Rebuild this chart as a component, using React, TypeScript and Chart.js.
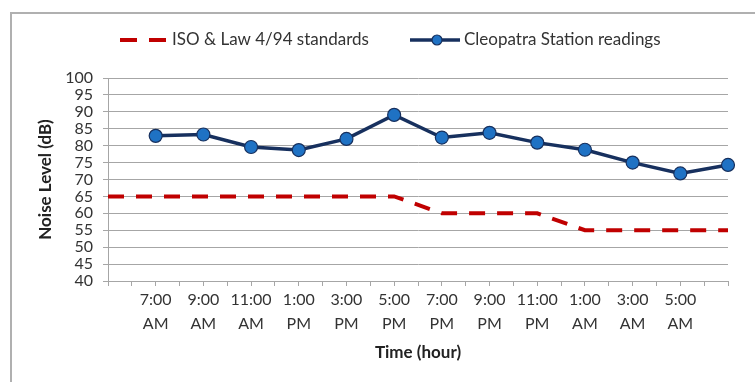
import React, { useEffect, useRef } from "react";
import { Chart, registerables } from "chart.js";

Chart.register(...registerables);

// Two-hourly tick labels shown on the x axis (first reading at 7:00 AM)
const timeLabels = [
  "7:00 AM", "9:00 AM", "11:00 AM", "1:00 PM", "3:00 PM", "5:00 PM",
  "7:00 PM", "9:00 PM", "11:00 PM", "1:00 AM", "3:00 AM", "5:00 AM",
];
// Cleopatra Station readings, every 2 hours from 7:00 AM (last one at 7:00 AM next day)
const cleopatraReadings = [82.9, 83.3, 79.6, 78.7, 82.0, 89.1, 82.4, 83.8, 80.9, 78.8, 75.0, 71.8, 74.3];
// ISO & Law 4/94 standards, every 2 hours from 5:00 AM
const isoStandards = [65, 65, 65, 65, 65, 65, 65, 60, 60, 60, 55, 55, 55, 55];
const yTicks = [40, 45, 50, 55, 60, 65, 70, 75, 80, 85, 90, 95, 100];

const HOURS = 27; // hourly categories from 5:00 AM to 7:00 AM next day

const categories: string[] = Array.from({ length: HOURS }, () => "");
timeLabels.forEach((l, i) => (categories[2 + 2 * i] = l));
const blueData: (number | null)[] = Array.from({ length: HOURS }, () => null);
cleopatraReadings.forEach((v, i) => (blueData[2 + 2 * i] = v));
const redData: (number | null)[] = Array.from({ length: HOURS }, () => null);
isoStandards.forEach((v, i) => (redData[2 * i] = v));

const FONT = "Lato, 'Open Sans', sans-serif";
const RED = "#C00000";
const NAVY = "#17305E";
const BLUE = "#1F72C4";
const GRID = "#A6A6A6";
const TEXT = "#333333";

const legendPlugin = {
  id: "customLegend",
  afterDraw(chart: any) {
    const ctx = chart.ctx;
    ctx.save();
    const y = 40;
    ctx.strokeStyle = RED;
    ctx.lineWidth = 4;
    ctx.beginPath();
    ctx.moveTo(120, y);
    ctx.lineTo(137, y);
    ctx.moveTo(149, y);
    ctx.lineTo(166, y);
    ctx.stroke();
    ctx.font = `17px ${FONT}`;
    ctx.fillStyle = TEXT;
    ctx.textBaseline = "middle";
    ctx.textAlign = "left";
    ctx.fillText("ISO & Law 4/94 standards", 172, y);

    ctx.strokeStyle = NAVY;
    ctx.lineWidth = 3.5;
    ctx.beginPath();
    ctx.moveTo(410, y);
    ctx.lineTo(460, y);
    ctx.stroke();
    ctx.beginPath();
    ctx.arc(437, y, 5, 0, Math.PI * 2);
    ctx.fillStyle = BLUE;
    ctx.fill();
    ctx.lineWidth = 1.2;
    ctx.stroke();
    ctx.fillStyle = TEXT;
    ctx.fillText("Cleopatra Station readings", 464, y);
    ctx.restore();
  },
};

export default function App() {
  const ref = useRef<HTMLCanvasElement | null>(null);
  useEffect(() => {
    if (!ref.current) return;
    const chart = new Chart(ref.current, {
      type: "line",
      data: {
        labels: categories,
        datasets: [
          {
            label: "ISO & Law 4/94 standards",
            data: redData,
            borderColor: RED,
            borderWidth: 4,
            borderDash: [16, 12],
            pointRadius: 0,
            spanGaps: true,
            tension: 0,
          },
          {
            label: "Cleopatra Station readings",
            data: blueData,
            borderColor: NAVY,
            borderWidth: 3.5,
            pointRadius: 6.5,
            pointBackgroundColor: BLUE,
            pointBorderColor: NAVY,
            pointBorderWidth: 1.2,
            spanGaps: true,
            tension: 0,
          },
        ],
      },
      options: {
        animation: false,
        responsive: false,
        layout: { padding: { top: 78, right: 27, left: 0, bottom: 0 } },
        plugins: { legend: { display: false }, tooltip: { enabled: false } },
        scales: {
          x: {
            type: "category",
            offset: false,
            grid: {
              drawOnChartArea: false,
              drawTicks: true,
              tickLength: 5,
              color: GRID,
            },
            border: { color: GRID, width: 1 },
            ticks: {
              autoSkip: false,
              maxRotation: 0,
              minRotation: 0,
              padding: 1,
              color: TEXT,
              font: { family: FONT, size: 16, lineHeight: 1.55 },
              callback: (_v: any, i: number) => {
                const l = categories[i];
                return l ? l.split(" ") : "";
              },
            },
            title: {
              display: true,
              text: "Time (hour)",
              color: "#222222",
              font: { family: FONT, size: 17, weight: "bold", lineHeight: 1.2 },
              padding: { top: 0, bottom: 19 },
            },
            afterFit: (s: any) => {
              s.height = 101;
            },
          },
          y: {
            min: 40,
            max: 100,
            afterBuildTicks: (s: any) => {
              s.ticks = yTicks.map((v) => ({ value: v }));
            },
            grid: { color: GRID, tickLength: 5, drawTicks: true },
            border: { color: GRID, width: 1 },
            ticks: {
              autoSkip: false,
              stepSize: 5,
              padding: 10,
              color: TEXT,
              font: { family: FONT, size: 16 },
            },
            title: {
              display: true,
              text: "Noise Level (dB)",
              color: "#222222",
              font: { family: FONT, size: 17, weight: "bold", lineHeight: 1.2 },
              padding: { top: 35, bottom: 0 },
            },
            afterFit: (s: any) => {
              s.width = 108;
            },
          },
        },
      },
      plugins: [legendPlugin],
    });
    return () => chart.destroy();
  }, []);

  return (
    <div
      style={{
        position: "fixed",
        left: 0,
        top: 0,
        width: 755,
        height: 382,
        background: "#ffffff",
        overflow: "hidden",
      }}
    >
      <div
        style={{
          position: "absolute",
          left: 10,
          top: 12,
          right: -5,
          bottom: -5,
          borderLeft: "2px solid #B0B0B0",
          borderTop: "2px solid #B0B0B0",
        }}
      />
      <canvas
        ref={ref}
        width={755}
        height={382}
        style={{ position: "absolute", left: 0, top: 0, width: 755, height: 382 }}
      />
    </div>
  );
}
